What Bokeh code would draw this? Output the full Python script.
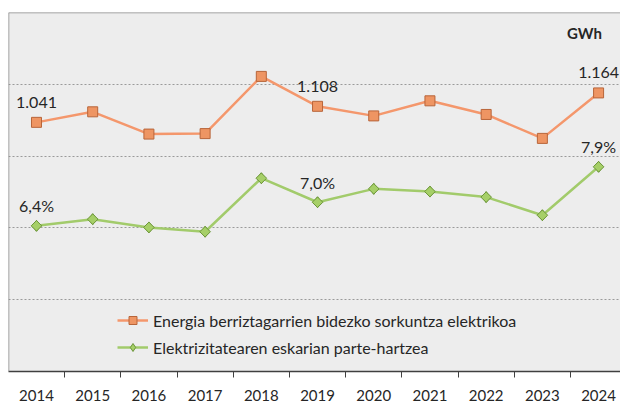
import math
from bokeh.plotting import figure
from bokeh.models import Range1d, FixedTicker, Span, Label, Legend, LegendItem
from bokeh.embed import file_html
from bokeh.resources import INLINE
from bokeh.core.properties import value

# ---- data ----
years = ["2014", "2015", "2016", "2017", "2018", "2019", "2020", "2021", "2022", "2023", "2024"]
energia = [1041, 1085, 992, 994, 1233, 1108, 1068, 1131, 1074, 974, 1164]
partea = [6.4, 6.57, 6.36, 6.25, 7.61, 7.0, 7.34, 7.27, 7.13, 6.67, 7.9]
label_idx = [0, 5, 10]
energia_name = "Energia berriztagarrien bidezko sorkuntza elektrikoa"
partea_name = "Elektrizitatearen eskarian parte-hartzea"
unit = "GWh"
grid_ticks = [300, 600, 900, 1200]

FONT = "Lato"
TXT = "#262626"
ORANGE_LINE = "#F4976C"
ORANGE_FILL = "#EE9563"
ORANGE_EDGE = "#B8653A"
GREEN_LINE = "#A2CB6B"
GREEN_FILL = "#A6CF68"
GREEN_EDGE = "#6B9538"

x = list(range(len(years)))

p = figure(width=620, height=403, output_backend="svg", toolbar_location=None,
           x_range=Range1d(-0.498, 10.39), y_range=Range1d(0, 1500),
           min_border_left=8, min_border_right=0, min_border_top=12, min_border_bottom=31)
p.extra_y_ranges = {"pct": Range1d(2.70, 11.82)}

p.background_fill_color = "#EDEDED"
p.border_fill_color = "white"
p.outline_line_color = None

p.yaxis.visible = False
p.xgrid.visible = False
p.ygrid.ticker = FixedTicker(ticks=grid_ticks)
p.ygrid.grid_line_color = "#9A9A9A"
p.ygrid.grid_line_dash = "2 2"
p.ygrid.grid_line_width = 1

xa = p.xaxis[0]
xa.ticker = FixedTicker(ticks=x, minor_ticks=[i - 0.5 for i in x])
xa.major_label_overrides = {i: years[i] for i in x}
xa.major_tick_line_color = None
xa.major_tick_out = 0
xa.major_tick_in = 0
xa.minor_tick_line_color = "#404040"
xa.minor_tick_out = 6
xa.minor_tick_in = 0
xa.axis_line_color = "#404040"
xa.axis_line_width = 1.5
xa.major_label_text_font = FONT
xa.major_label_text_font_size = "15px"
xa.major_label_text_color = TXT
xa.major_label_standoff = 12

# frame borders (left and top)
p.add_layout(Span(location=-0.498, dimension="height", line_color="#8C8C8C", line_width=1.5))
p.add_layout(Span(location=1500, dimension="width", line_color="#8C8C8C", line_width=1.5))

# series
l1 = p.line(x, energia, line_color=ORANGE_LINE, line_width=2.5)
m1 = p.scatter(x, energia, marker="square", size=10, fill_color=ORANGE_FILL, line_color=ORANGE_EDGE,
               line_width=1)

l2 = p.line(x, partea, line_color=GREEN_LINE, line_width=2.5, y_range_name="pct")
m2 = p.scatter(x, partea, marker="diamond", size=11, fill_color=GREEN_FILL,
               line_color=GREEN_EDGE, line_width=1, y_range_name="pct")
p.scatter(x, partea, marker="square", angle=math.pi / 4, size=7.5, fill_color=GREEN_FILL,
          line_color=GREEN_EDGE, line_width=1, y_range_name="pct")

# value labels
p.text([x[i] for i in label_idx], [energia[i] for i in label_idx],
       text=[f"{energia[i]:,}".replace(",", ".") for i in label_idx],
       y_offset=-20, text_align="center", text_baseline="middle",
       text_font=value(FONT), text_font_size="16px", text_color=TXT)
p.text([x[i] for i in label_idx], [partea[i] for i in label_idx],
       text=[f"{partea[i]:.1f}".replace(".", ",") + "%" for i in label_idx],
       y_offset=-20, text_align="center", text_baseline="middle", y_range_name="pct",
       text_font=value(FONT), text_font_size="16px", text_color=TXT)

p.add_layout(Label(x=576, y=339, x_units="screen", y_units="screen", text=unit,
                   text_align="center", text_baseline="middle", text_font=FONT,
                   text_font_size="15px", text_font_style="bold", text_color=TXT))

lg = Legend(items=[LegendItem(label=energia_name, renderers=[l1, m1]),
                   LegendItem(label=partea_name, renderers=[l2, m2])])
lg.location = (109, 14)
lg.border_line_color = None
lg.background_fill_alpha = 0
lg.label_text_font = FONT
lg.label_text_font_size = "16px"
lg.label_text_color = TXT
lg.glyph_width = 31
lg.glyph_height = 20
lg.label_height = 20
lg.spacing = 7
lg.padding = 0
lg.margin = 0
lg.label_standoff = 5
p.add_layout(lg, "center")

open("out.html", "w").write(file_html(p, INLINE))
